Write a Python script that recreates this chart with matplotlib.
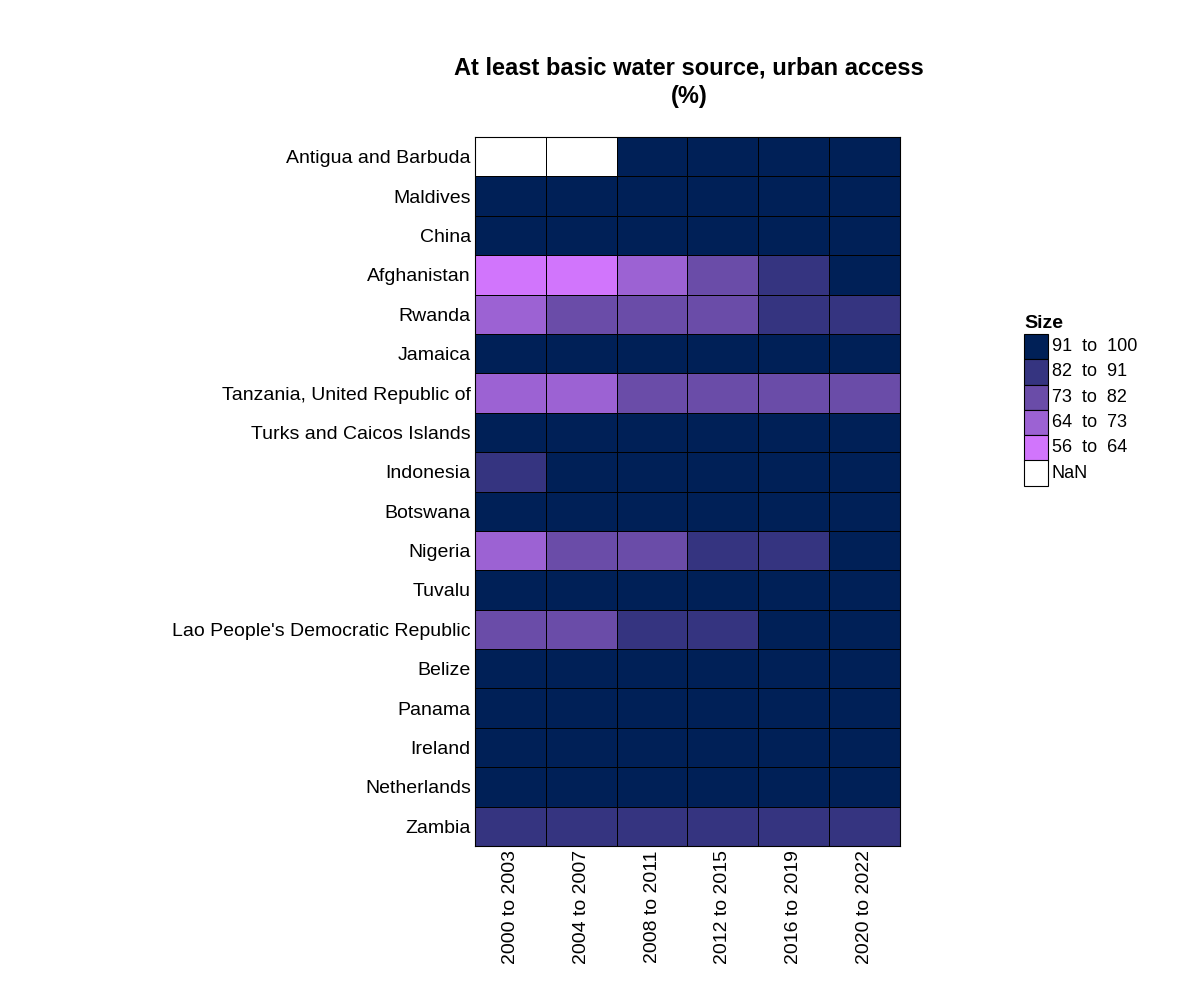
import numpy as np
import matplotlib.pyplot as plt
from matplotlib.colors import ListedColormap, BoundaryNorm
from matplotlib.patches import Rectangle

plt.rcParams['font.family'] = ['Liberation Sans', 'DejaVu Sans']

countries = ["Antigua and Barbuda", "Maldives", "China", "Afghanistan", "Rwanda",
             "Jamaica", "Tanzania, United Republic of", "Turks and Caicos Islands",
             "Indonesia", "Botswana", "Nigeria", "Tuvalu",
             "Lao People's Democratic Republic", "Belize", "Panama", "Ireland",
             "Netherlands", "Zambia"]
periods = ["2000 to 2003", "2004 to 2007", "2008 to 2011",
           "2012 to 2015", "2016 to 2019", "2020 to 2022"]

# urban access (%) per country, per period
antigua = [np.nan, np.nan, 97, 97, 97, 97]
maldives = [99, 99, 99, 99, 99, 99]
china = [97, 98, 98, 98, 98, 98]
afghanistan = [58, 61, 67, 75, 84, 92]
rwanda = [66, 76, 77, 78, 85, 86]
jamaica = [96, 96, 96, 96, 96, 96]
tanzania = [70, 71, 75, 76, 77, 78]
turks = [95, 95, 95, 95, 95, 95]
indonesia = [88, 92, 93, 94, 95, 96]
botswana = [98, 98, 98, 98, 98, 98]
nigeria = [70, 76, 79, 83, 86, 92]
tuvalu = [97, 98, 98, 99, 99, 99]
lao = [78, 80, 84, 88, 92, 95]
belize = [98, 98, 98, 98, 98, 98]
panama = [96, 97, 97, 97, 97, 97]
ireland = [99, 99, 99, 99, 99, 99]
netherlands = [100, 100, 100, 100, 100, 100]
zambia = [85, 86, 86, 87, 87, 88]

bin_edges = [56, 64, 73, 82, 91, 100]
bin_labels = ["56  to  64", "64  to  73", "73  to  82", "82  to  91", "91  to  100"]
bin_colors = ["#d175fc", "#9c62d3", "#6a4ca8", "#353480", "#002057"]

values = np.array([antigua, maldives, china, afghanistan, rwanda, jamaica, tanzania,
                   turks, indonesia, botswana, nigeria, tuvalu, lao, belize, panama,
                   ireland, netherlands, zambia], dtype=float)

cmap = ListedColormap(bin_colors)
cmap.set_bad("white")
norm = BoundaryNorm(bin_edges, cmap.N)

fig = plt.figure(figsize=(12, 10), dpi=100)
ax = fig.add_axes([0.3958, 0.154, 0.3542, 0.709])
ax.pcolormesh(np.ma.masked_invalid(values), cmap=cmap, norm=norm,
              edgecolors="black", linewidth=0.6)
ax.set_xlim(0, len(periods))
ax.set_ylim(len(countries), 0)
ax.set_xticks(np.arange(len(periods)) + 0.5)
ax.set_xticklabels(periods, rotation=90, fontsize=14)
ax.set_yticks(np.arange(len(countries)) + 0.5)
ax.set_yticklabels(countries, fontsize=14)
ax.tick_params(length=0, pad=3)
for s in ax.spines.values():
    s.set_linewidth(0.8)

fig.text(0.574, 0.932, "At least basic water source, urban access",
         ha="center", va="center", fontsize=17, fontweight="bold")
fig.text(0.574, 0.904, "(%)", ha="center", va="center", fontsize=17, fontweight="bold")

# legend
lx, ly, bw, bh = 1024 / 1200, 1 - 334 / 1000, 24 / 1200, 25.3 / 1000
fig.text(lx, ly + 0.002, "Size", fontsize=14, fontweight="bold", va="bottom", ha="left")
entries = list(zip(bin_labels[::-1], bin_colors[::-1])) + [("NaN", "white")]
for i, (lab, col) in enumerate(entries):
    y0 = ly - (i + 1) * bh
    fig.patches.append(Rectangle((lx, y0), bw, bh, transform=fig.transFigure,
                                 facecolor=col, edgecolor="black", linewidth=0.8))
    fig.text(lx + bw + 0.003, y0 + bh / 2, lab, fontsize=13, va="center", ha="left")

fig.savefig("out.png", dpi=100)
